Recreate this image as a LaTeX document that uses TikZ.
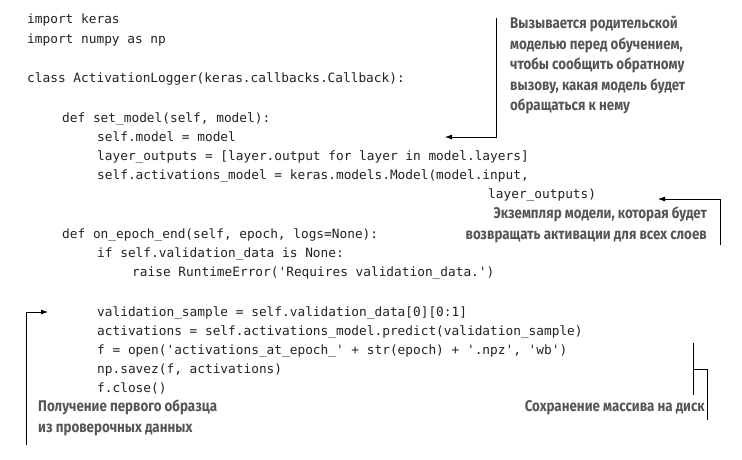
\documentclass[tikz,border=0pt]{standalone}
\usepackage{fontspec}
\setmonofont{DejaVu Sans Mono}
\newfontfamily\notefont{Fira Sans}[FakeStretch=0.86]
\usetikzlibrary{arrows.meta}
\definecolor{notegray}{HTML}{555555}
\definecolor{codegray}{HTML}{222222}
\begin{document}
\begin{tikzpicture}[x=1pt,y=-1pt,
  code/.style={anchor=base west,inner sep=0pt,text=codegray,font=\fontsize{12.8}{14}\ttfamily},
  note/.style={inner sep=0pt,text=notegray,font=\fontsize{15.5}{20.5}\notefont\bfseries,align=left},
  conn/.style={line width=0.8pt},
  arr/.style={conn,-{Latex[length=7pt,width=5pt]}}]
\useasboundingbox (0,0) rectangle (742,460);
\fill[white] (0,0) rectangle (742,460);
\foreach \t/\xx/\yy [count=\i] in {
 {import keras}/27/24,
 {import numpy as np}/27/44,
 {class ActivationLogger(keras.callbacks.Callback):}/27/83,
 {def set\_model(self, model):}/62/122,
 {self.model = model}/97/141,
 {layer\_outputs = [layer.output for layer in model.layers]}/97/160,
 {self.activations\_model = keras.models.Model(model.input,}/97/179,
 {layer\_outputs)}/488/198,
 {def on\_epoch\_end(self, epoch, logs=None):}/62/238,
 {if self.validation\_data is None:}/97/257,
 {raise RuntimeError('Requires validation\_data.')}/132/276,
 {validation\_sample = self.validation\_data[0][0:1]}/97/316,
 {activations = self.activations\_model.predict(validation\_sample)}/97/335,
 {f = open('activations\_at\_epoch\_' + str(epoch) + '.npz', 'wb')}/97/354,
 {np.savez(f, activations)}/97/373,
 {f.close()}/97/392}
 \node[code] (c\i) at (\xx,\yy) {\strut\t};
\node[note,anchor=north west] (n1) at (510,16) {Вызывается родительской\\моделью перед обучением,\\чтобы сообщить обратному\\вызову, какая модель будет\\обращаться к нему};
\node[note,anchor=north east,align=right] (n2) at (707,207) {Экземпляр модели, которая будет\\возвращать активации для всех слоев};
\node[note,anchor=north west] (n3) at (38,400) {Получение первого образца\\из проверочных данных};
\node[note,anchor=north east] (n4) at (705,400) {Сохранение массива на диск};
\coordinate (a1) at (496,18); \coordinate (a1b) at (496,137); \coordinate (a1e) at (445,137);
\draw[arr] (a1) -- (a1b) -- (a1e);
\coordinate (a2) at (720,245); \coordinate (a2b) at (720,199); \coordinate (a2e) at (658,199);
\draw[arr] (a2) -- (a2b) -- (a2e);
\coordinate (a3) at (26,445); \coordinate (a3b) at (26,312); \coordinate (a3e) at (48,312);
\draw[arr] (a3) -- (a3b) -- (a3e);
\coordinate (b1) at (693,343); \coordinate (b2) at (693,395);
\coordinate (b3) at (693,369); \coordinate (b4) at (707,369); \coordinate (b5) at (707,420);
\draw[conn] (b1) -- (b2);
\draw[conn] (b3) -- (b4) -- (b5);
\end{tikzpicture}
\end{document}
